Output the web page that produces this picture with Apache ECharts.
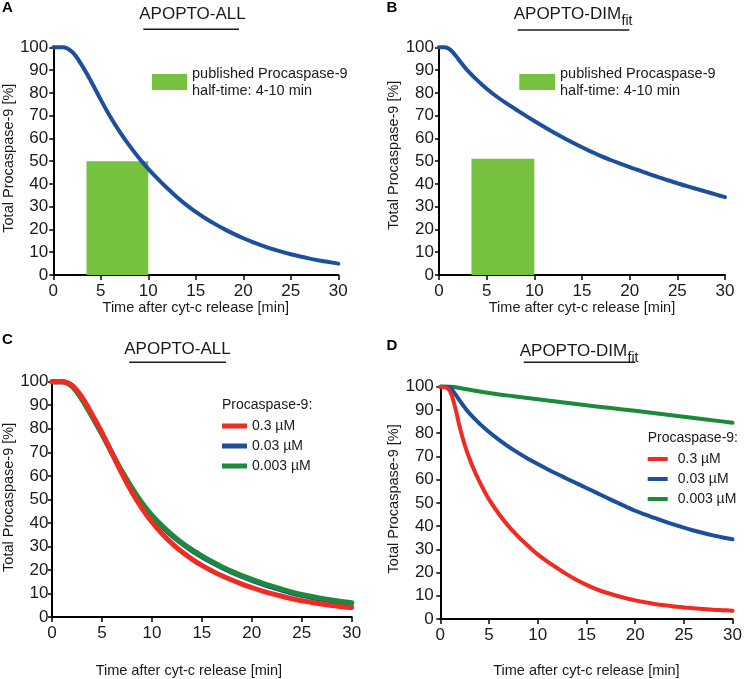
<!DOCTYPE html>
<html>
<head>
<meta charset="utf-8">
<script src="https://cdn.jsdelivr.net/npm/echarts@6/dist/echarts.min.js"></script>
<style>
  html, body { margin: 0; padding: 0; background: #fff; }
  #chart { width: 745px; height: 679px; }
</style>
</head>
<body>
<div id="chart"></div>
<script>
// time grid (min) used by most curves
const minutes = [0, 1, 2, 3, 4, 5, 6, 7, 8, 9, 10, 11, 12, 13, 14, 15, 16, 17, 18, 19, 20, 21, 22, 23, 24, 25, 26, 27, 28, 29, 30];

// Panel A / B: model curve + published half-time band
const procA = [100, 100, 97.9, 92.2, 84.9, 77.0, 69.5, 62.9, 56.9, 51.5, 46.6, 42.2, 38.1, 34.3, 30.8, 27.7, 24.95, 22.45, 20.15, 18.05, 16.15, 14.45, 12.9, 11.5, 10.25, 9.1, 8.1, 7.2, 6.4, 5.7, 5.0];
const timeB = [0, 0.5, 1, 1.5, 2, 2.5, 3, 4, 5, 6, 7, 8, 9, 10, 11, 12, 13, 14, 15, 16, 17, 18, 19, 20, 21, 22, 23, 24, 25, 26, 27, 28, 29, 30];
const procB = [100, 100, 99.5, 97.6, 95.0, 92.3, 89.8, 85.6, 81.8, 78.5, 75.6, 72.9, 70.2, 67.6, 65.1, 62.7, 60.4, 58.2, 56.1, 54.1, 52.2, 50.5, 48.9, 47.4, 45.9, 44.4, 43.0, 41.6, 40.3, 39.0, 37.8, 36.6, 35.4, 34.2];

// [from, to, height] of the published half-time band
const bandA = [3.5, 10, 50];
const bandB = [3.4, 10, 51];

// Panel C: APOPTO-ALL, three procaspase-9 concentrations
const procC_03 = [100, 100, 98.5, 93.4, 86.2, 78.4, 69.6, 60.9, 53.0, 46.2, 40.4, 35.5, 31.3, 27.7, 24.6, 21.9, 19.6, 17.5, 15.7, 14.0, 12.5, 11.1, 9.9, 8.8, 7.8, 6.9, 6.2, 5.5, 4.9, 4.4, 4.0];
const procC_003 = [100, 100, 98.1, 92.6, 85.5, 77.9, 69.7, 61.7, 54.5, 48.2, 42.9, 38.5, 34.6, 31.2, 28.2, 25.6, 23.2, 21.0, 19.0, 17.2, 15.6, 14.1, 12.7, 11.4, 10.2, 9.2, 8.3, 7.5, 6.8, 6.2, 5.7];
const procC_0003 = [100, 100, 98.0, 92.4, 85.2, 77.6, 69.7, 62.0, 54.9, 48.6, 43.3, 38.9, 35.0, 31.6, 28.6, 26.0, 23.6, 21.4, 19.4, 17.6, 16.0, 14.5, 13.1, 11.8, 10.6, 9.6, 8.7, 7.9, 7.2, 6.6, 6.1];

// Panel D: APOPTO-DIMfit, three concentrations
const timeD_03 = [0, 0.5, 1, 1.5, 2, 2.5, 3, 3.5, 4, 4.5, 5, 6, 7, 8, 9, 10, 11, 12, 13, 14, 15, 16, 17, 18, 19, 20, 21, 22, 23, 24, 25, 26, 27, 28, 29, 30];
const procD_03 = [100, 99.8, 98.0, 91.5, 82.5, 75.0, 69.0, 63.8, 59.3, 55.2, 51.5, 45.3, 40.0, 35.5, 31.5, 27.8, 24.7, 21.9, 19.2, 16.8, 14.7, 12.9, 11.4, 10.1, 9.0, 8.0, 7.2, 6.5, 5.9, 5.4, 5.0, 4.6, 4.3, 4.0, 3.8, 3.6];
const timeD_003 = [0, 0.5, 1, 1.5, 2, 2.5, 3, 4, 5, 6, 7, 8, 9, 10, 11, 12, 13, 14, 15, 16, 17, 18, 19, 20, 21, 22, 23, 24, 25, 26, 27, 28, 29, 30];
const procD_003 = [100, 100, 99.6, 97.0, 94.0, 91.1, 88.5, 84.2, 80.5, 77.2, 74.2, 71.5, 69.0, 66.7, 64.5, 62.4, 60.4, 58.4, 56.4, 54.4, 52.4, 50.4, 48.5, 46.6, 45.0, 43.5, 42.0, 40.6, 39.3, 38.1, 37.0, 36.0, 35.1, 34.3];
const timeD_0003 = [0, 1, 2.5, 5, 7.5, 10, 12.5, 15, 17.5, 20, 22.5, 25, 27.5, 30];
const procD_0003 = [100, 100, 99.0, 97.3, 95.9, 94.6, 93.3, 92.0, 90.8, 89.6, 88.4, 87.1, 85.8, 84.5];

const conc = ['0.3 µM', '0.03 µM', '0.003 µM'];
const bandName = 'published Procaspase-9\nhalf-time: 4-10 min';

const RED = '#ef2b22';
const BLUE = '#1c4f9c';
const GREEN = '#1d8a3b';
const BAND = '#76c13d';
const FONT = '"Liberation Sans", Arial, sans-serif';

const zip = (xs, ys) => xs.map((x, i) => [x, ys[i]]);

const grids = [
  { left: 50.3, top: 47.3, width: 288, height: 227.7 },
  { left: 439, top: 47.3, width: 286, height: 227.7 },
  { left: 51.7, top: 381.7, width: 300, height: 236 },
  { left: 440.3, top: 386.7, width: 294, height: 232.6 },
];

const xNameGap = [25, 25, 46, 44];
const xNamePad = [[0, 0, 0, 0], [0, 0, 0, 0], [0, 26, 0, 0], [0, 0, 0, 0]];
const yNameGap = [33, 35, 36, 32];
const yNamePad = [[0, 0, 0, 6], [0, 0, 0, 12], [0, 0, 0, 4], [0, 0, 0, 8]];
const yLabelMargin = [5, 5, 3.5, 6.5];

const xAxes = grids.map((g, i) => ({
  gridIndex: i,
  type: 'value',
  min: 0,
  max: 30,
  interval: 5,
  name: 'Time after cyt-c release [min]',
  nameLocation: 'middle',
  nameGap: xNameGap[i],
  nameTextStyle: { fontFamily: FONT, fontSize: 14.5, color: '#1a1a1a', padding: xNamePad[i] },
  axisLine: { show: true, onZero: false, lineStyle: { color: '#000', width: 2 } },
  axisTick: { show: true, length: 5, lineStyle: { color: '#000', width: 1.5 } },
  axisLabel: { fontFamily: FONT, fontSize: 17, color: '#1a1a1a', margin: 8 },
  splitLine: { show: false },
}));

const yAxes = grids.map((g, i) => ({
  gridIndex: i,
  type: 'value',
  min: 0,
  max: 100,
  interval: 10,
  name: 'Total Procaspase-9 [%]',
  nameLocation: 'middle',
  nameGap: yNameGap[i],
  nameTextStyle: { fontFamily: FONT, fontSize: 14.5, color: '#1a1a1a', padding: yNamePad[i] },
  axisLine: { show: true, onZero: false, lineStyle: { color: '#000', width: 2 } },
  axisTick: { show: true, length: 4, lineStyle: { color: '#000', width: 1.5 } },
  axisLabel: { fontFamily: FONT, fontSize: 17, color: '#1a1a1a', margin: yLabelMargin[i] },
  splitLine: { show: false },
}));

function lineSeries(name, idx, xs, ys, color, width) {
  return {
    name: name,
    type: 'line',
    xAxisIndex: idx,
    yAxisIndex: idx,
    data: zip(xs, ys),
    smooth: 0.35,
    showSymbol: false,
    clip: false,
    silent: true,
    itemStyle: { color: color },
    lineStyle: { color: color, width: width, cap: 'round', join: 'round' },
  };
}

function bandSeries(idx, band) {
  return {
    name: bandName,
    type: 'custom',
    xAxisIndex: idx,
    yAxisIndex: idx,
    data: [band],
    itemStyle: { color: BAND },
    silent: true,
    renderItem: function (params, api) {
      const p0 = api.coord([api.value(0), api.value(2)]);
      const p1 = api.coord([api.value(1), 0]);
      return {
        type: 'rect',
        shape: { x: p0[0], y: p0[1], width: p1[0] - p0[0], height: p1[1] - p0[1] },
        style: { fill: BAND },
      };
    },
  };
}

const series = [
  bandSeries(0, bandA),
  lineSeries('A', 0, minutes, procA, BLUE, 4),
  bandSeries(1, bandB),
  lineSeries('B', 1, timeB, procB, BLUE, 4),
  // C: red drawn last, on top
  lineSeries(conc[1], 2, minutes, procC_003, BLUE, 5),
  lineSeries(conc[2], 2, minutes, procC_0003, GREEN, 5),
  lineSeries(conc[0], 2, minutes, procC_03, RED, 5),
  lineSeries(conc[2], 3, timeD_0003, procD_0003, GREEN, 4),
  lineSeries(conc[1], 3, timeD_003, procD_003, BLUE, 4),
  lineSeries(conc[0], 3, timeD_03, procD_03, RED, 4),
];

const legendText = { fontFamily: FONT, fontSize: 14.5, color: '#1a1a1a' };

const legends = [
  { left: 152, top: 65, padding: 0, icon: 'rect', itemWidth: 35, itemHeight: 16, selectedMode: false,
    data: [bandName], textStyle: Object.assign({ lineHeight: 17 }, legendText) },
  { left: 519.3, top: 65, padding: 0, icon: 'rect', itemWidth: 35.7, itemHeight: 16, selectedMode: false,
    data: [bandName], textStyle: Object.assign({ lineHeight: 17 }, legendText) },
  { left: 222, top: 419, padding: 0, orient: 'vertical', icon: 'rect', itemWidth: 25, itemHeight: 5, itemGap: 6,
    selectedMode: false, data: conc, textStyle: Object.assign({}, legendText, { fontSize: 14 }) },
  { left: 647.7, top: 452, padding: 0, orient: 'vertical', icon: 'rect', itemWidth: 20, itemHeight: 4, itemGap: 6,
    selectedMode: false, data: conc, textStyle: Object.assign({}, legendText, { fontSize: 14, padding: [0, 0, 0, 5] }) },
];

function label(text, x, y, size, opts) {
  return {
    type: 'text', x: x, y: y, silent: true,
    style: Object.assign({
      text: text, fill: '#1a1a1a', font: size + 'px ' + FONT,
      align: 'center', verticalAlign: 'middle',
    }, opts || {}),
  };
}

function underline(x1, x2, y) {
  return { type: 'line', silent: true, shape: { x1: x1, y1: y, x2: x2, y2: y }, style: { stroke: '#1a1a1a', lineWidth: 1.5 } };
}

const graphics = [
  label('A', 7.5, 8.3, 15, { font: 'bold 15px ' + FONT, fill: '#000' }),
  label('B', 392, 8.3, 15, { font: 'bold 15px ' + FONT, fill: '#000' }),
  label('C', 7.5, 340, 15, { font: 'bold 15px ' + FONT, fill: '#000' }),
  label('D', 392, 346, 15, { font: 'bold 15px ' + FONT, fill: '#000' }),

  label('APOPTO-ALL', 192.5, 14.5, 17),
  underline(143.3, 239, 29.3),
  label('APOPTO-DIM', 513.7, 14, 17, { align: 'left' }),
  label('fit', 621.5, 21, 14, { align: 'left' }),
  underline(517.7, 629.3, 30),

  label('APOPTO-ALL', 177.5, 349.5, 17),
  underline(129.3, 226, 362.3),
  label('APOPTO-DIM', 519.7, 351.5, 17, { align: 'left' }),
  label('fit', 627.5, 358.5, 14, { align: 'left' }),
  underline(523.7, 635.3, 362.3),

  label('Procaspase-9:', 222, 405, 14, { align: 'left' }),
  label('Procaspase-9:', 647.7, 437.7, 14, { align: 'left' }),
];

const chart = echarts.init(document.getElementById('chart'), null, { renderer: 'canvas' });
chart.setOption({
  animation: false,
  backgroundColor: '#fff',
  grid: grids,
  xAxis: xAxes,
  yAxis: yAxes,
  legend: legends,
  series: series,
  graphic: graphics,
});
</script>
</body>
</html>
